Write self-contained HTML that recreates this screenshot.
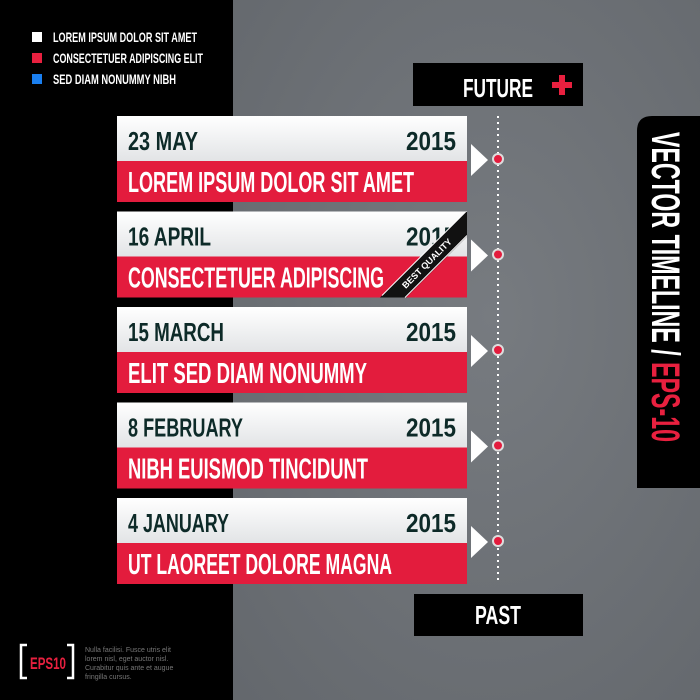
<!DOCTYPE html>
<html><head><meta charset="utf-8"><style>
html,body{margin:0;padding:0;width:700px;height:700px;overflow:hidden;background:#000}
svg{display:block}
text{font-family:"Liberation Sans Narrow","Liberation Sans",sans-serif;font-weight:bold}
</style></head><body>
<svg width="700" height="700" viewBox="0 0 700 700">
<defs>
<radialGradient id="bg" cx="0.55" cy="0.45" r="0.8"><stop offset="0" stop-color="#777b80"/><stop offset="1" stop-color="#63676c"/></radialGradient>
<linearGradient id="wg" x1="0" y1="0" x2="0" y2="1"><stop offset="0" stop-color="#ffffff"/><stop offset="1" stop-color="#e2e4e6"/></linearGradient>
<clipPath id="c2"><rect x="117" y="212" width="350" height="86"/></clipPath>
</defs>
<rect x="0" y="0" width="233" height="700" fill="#000"/>
<rect x="233" y="0" width="467" height="700" fill="url(#bg)"/>

<g>
<rect x="32" y="32" width="10" height="10" fill="#fff"/>
<text x="53" y="42" font-size="14" fill="#fff" textLength="144" lengthAdjust="spacingAndGlyphs">LOREM IPSUM DOLOR SIT AMET</text>
<rect x="32" y="53" width="10" height="10" fill="#e8203f"/>
<text x="53" y="63" font-size="14" fill="#fff" textLength="150" lengthAdjust="spacingAndGlyphs">CONSECTETUER ADIPISCING ELIT</text>
<rect x="32" y="74" width="10" height="10" fill="#1a7ff0"/>
<text x="53" y="84" font-size="14" fill="#fff" textLength="123" lengthAdjust="spacingAndGlyphs">SED DIAM NONUMMY NIBH</text>
</g>

<g>
<rect x="413" y="63" width="170" height="43" fill="#000"/>
<text x="463" y="97" font-size="26" fill="#fff" textLength="70" lengthAdjust="spacingAndGlyphs">FUTURE</text>
<rect x="552" y="82" width="20" height="6" fill="#e8203f"/>
<rect x="559" y="75" width="6" height="20" fill="#e8203f"/>
</g>
<g>
<rect x="414" y="594" width="169" height="42" fill="#000"/>
<text x="475" y="624" font-size="26" fill="#fff" textLength="46" lengthAdjust="spacingAndGlyphs">PAST</text>
</g>

<line x1="498" y1="116" x2="498" y2="584" stroke="#fff" stroke-width="2" stroke-dasharray="2 4"/>

<g id="cards"></g>

<g>
<path d="M652 116 H700 V488 H637 V131 Q637 116 652 116 Z" fill="#000"/>
<text transform="translate(652,132) rotate(90)" font-size="40" fill="#fff" textLength="310" lengthAdjust="spacingAndGlyphs">VECTOR TIMELINE / <tspan fill="#e8203f">EPS-10</tspan></text>
</g>

<g>
<path d="M27 645 H21 V678 H27" fill="none" stroke="#fff" stroke-width="2.5"/>
<path d="M67 645 H73 V678 H67" fill="none" stroke="#fff" stroke-width="2.5"/>
<text x="30" y="669" font-size="17" fill="#e8203f" textLength="36" lengthAdjust="spacingAndGlyphs">EPS10</text>
</g>
<g font-family="Liberation Sans" font-size="7" fill="#777">
<text x="85" y="652" style="font-weight:normal">Nulla facilisi. Fusce utris elit</text>
<text x="85" y="661" style="font-weight:normal">lorem nisl, eget auctor nisl.</text>
<text x="85" y="670" style="font-weight:normal">Curabitur quis ante et augue</text>
<text x="85" y="679" style="font-weight:normal">fringilla cursus.</text>
</g>
</svg>
<script>
const dates=["23 MAY","16 APRIL","15 MARCH","8 FEBRUARY","4 JANUARY"];
const years=["2015","2015","2015","2015","2015"];
const titles=["LOREM IPSUM DOLOR SIT AMET","CONSECTETUER ADIPISCING","ELIT SED DIAM NONUMMY","NIBH EUISMOD TINCIDUNT","UT LAOREET DOLORE MAGNA"];
const dateW=[70,83,96,115,101];
const titleW=[286,256,239,240,264];
const NS="http://www.w3.org/2000/svg";
const g=document.getElementById('cards');
function mk(t,a,p){const e=document.createElementNS(NS,t);for(const k in a)e.setAttribute(k,a[k]);(p||g).appendChild(e);return e;}
dates.forEach((d,i)=>{
  const y=116+i*95.5;
  const grp=mk('g',{});
  
  
  mk('rect',{x:117,y:y,width:350,height:45,fill:'url(#wg)'},grp);
  mk('rect',{x:117,y:y+45,width:350,height:41,fill:'#e31c3d'},grp);
  const dt=mk('text',{x:128,y:y+34,'font-size':26,fill:'#0d2a28',textLength:dateW[i],lengthAdjust:'spacingAndGlyphs'},grp);
  dt.textContent=d;
  
  
  const yr=mk('text',{x:406,y:y+34,'font-size':26,fill:'#0d2a28',textLength:50,lengthAdjust:'spacingAndGlyphs'},grp);
  yr.textContent=years[i];
  
  
  const tt=mk('text',{x:128,y:y+76,'font-size':29,fill:'#fff',textLength:titleW[i],lengthAdjust:'spacingAndGlyphs'},grp);
  tt.textContent=titles[i];
  
  
  const tri=mk('path',{d:`M471 ${y+28} L488 ${y+44} L471 ${y+60} Z`,fill:'#fff'},grp);
  
  
  const dot=mk('circle',{cx:498,cy:y+43,r:5,fill:'#e31c3d',stroke:'#ddd','stroke-width':2},grp);
  
  
  if(i===1){
    const rb=mk('g',{'clip-path':'url(#c2)'},grp);
    
    
    mk('path',{d:`M380 ${y+86} L406 ${y+86} L467 ${y+25} L467 ${y-1} Z`,fill:'#111'},rb);
    mk('line',{x1:382,y1:y+84,x2:467,y2:y-1,stroke:'#fff','stroke-width':1},rb);
    mk('line',{x1:405,y1:y+86,x2:467,y2:y+24,stroke:'#fff','stroke-width':1},rb);
    const bq=mk('text',{transform:`translate(427,${y+52}) rotate(-45)`,'font-size':9,fill:'#fff','text-anchor':'middle','dominant-baseline':'central'},rb);
    bq.textContent='BEST QUALITY';
    
    
  }
});
</script>
</body></html>
